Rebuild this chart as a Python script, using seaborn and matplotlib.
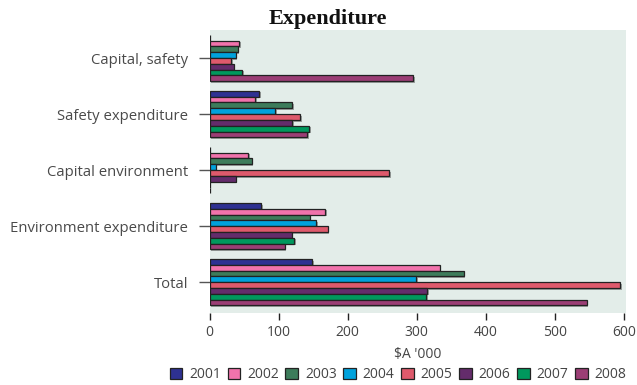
import matplotlib
matplotlib.use("Agg")
import matplotlib.pyplot as plt
import matplotlib.patheffects as pe
from matplotlib.patches import Patch
import seaborn as sns
import pandas as pd

categories = ["Capital, safety", "Safety expenditure", "Capital environment",
              "Environment expenditure", "Total"]
years = ["2001", "2002", "2003", "2004", "2005", "2006", "2007", "2008"]

v2001 = [0, 72, 0, 75, 149]
v2002 = [43, 66, 56, 167, 333]
v2003 = [41, 120, 61, 145, 368]
v2004 = [38, 95, 9, 154, 299]
v2005 = [31, 131, 260, 171, 595]
v2006 = [35, 120, 38, 119, 315]
v2007 = [47, 144, 0, 123, 314]
v2008 = [295, 141, 0, 109, 546]
series = [v2001, v2002, v2003, v2004, v2005, v2006, v2007, v2008]

colors = ["#2e3192", "#f173ac", "#3d7c5b", "#00a2dc", "#de5a6c", "#642c6b", "#00985d", "#9b3e75"]

rows = []
for y, vals in zip(years, series):
    for c, v in zip(categories, vals):
        rows.append({"category": c, "year": y, "value": v})
df = pd.DataFrame(rows)

sns.set_style("white")
plt.rcParams["font.family"] = ["Open Sans", "DejaVu Sans"]

fig = plt.figure(figsize=(6.37, 3.85), dpi=100)
ax = fig.add_axes([209.5 / 637, 1 - 313 / 385, (626 - 209.5) / 637, (313 - 30) / 385])
ax.set_facecolor("#e3ede9")

sns.barplot(data=df, y="category", x="value", hue="year", orient="h",
            palette=colors, width=0.83, edgecolor="#222222", linewidth=0.9,
            order=categories, hue_order=years, ax=ax, legend=False, saturation=1)

for p in ax.patches:
    p.set_path_effects([pe.SimplePatchShadow(offset=(1.2, -1.2), shadow_rgbFace="#555555", alpha=0.5),
                        pe.Normal()])

ax.set_xlim(0, 603)
ax.set_ylim(4.55, -0.5)
ax.set_xticks([0, 100, 200, 300, 400, 500, 600])
for s in ax.spines.values():
    s.set_visible(False)
ax.tick_params(axis="x", length=5, width=1, color="#222222", labelsize=10,
               labelcolor="#444444", pad=4, bottom=True)
ax.tick_params(axis="y", length=8, width=1, color="#555555", labelsize=10.7,
               labelcolor="#4a4a4a", pad=7.5, left=True)
ax.set_ylabel("")
ax.set_xlabel("$A '000".replace("$", r"\$"), fontsize=10, color="#444444", labelpad=5)

handles = [Patch(facecolor=c, edgecolor="#222222", linewidth=0.9) for c in colors]
fig.legend(handles, years, ncol=8, loc="center", bbox_to_anchor=(398 / 637, 1 - 375 / 385),
           frameon=False, fontsize=10, labelcolor="#444444", handlelength=0.9,
           handleheight=0.9, handletextpad=0.5, columnspacing=0.48, borderaxespad=0,
           borderpad=0)

fig.text(0.515, 1 - 24 / 385, "Expenditure", ha="center", va="baseline", fontsize=16,
         fontweight="bold", family="Liberation Serif", color="#111111")

fig.savefig("out.png", dpi=100)
